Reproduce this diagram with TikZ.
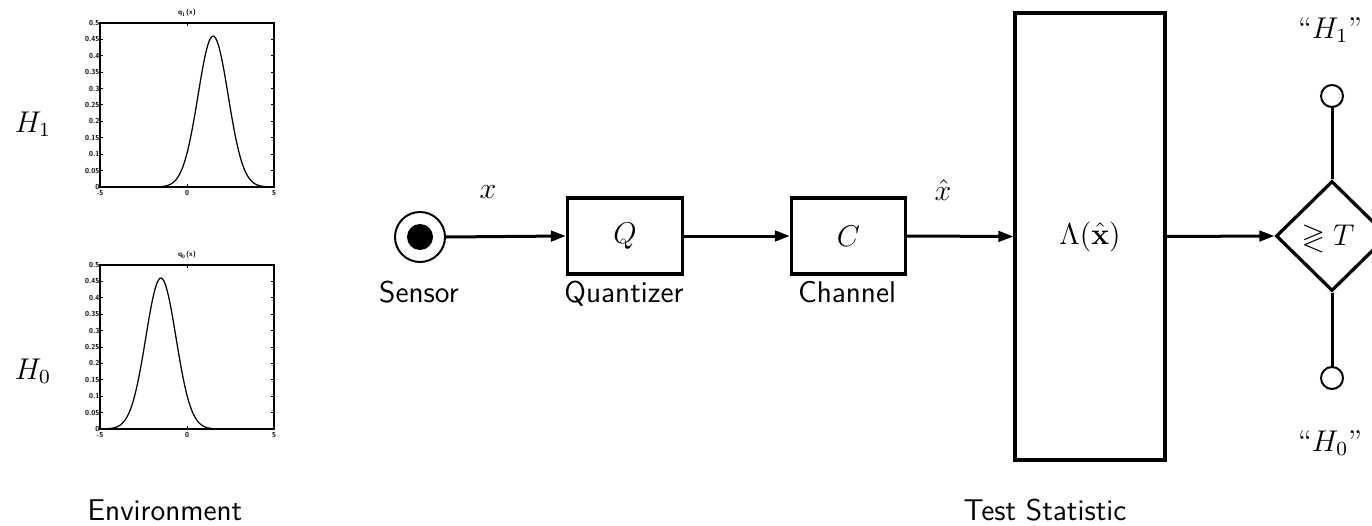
\documentclass[tikz,border=0pt]{standalone}
\usepackage{amsmath,amssymb}
\usetikzlibrary{arrows.meta,shapes.geometric}
\newcommand\envplot[3]{% #1 zero line y, #2 mean, #3 subscript
  \draw[line width=0.7pt] (100,#1-164) rectangle (274,#1);
  \foreach \v in {0,0.05,0.1,0.15,0.2,0.25,0.3,0.35,0.4,0.45,0.5}{
    \draw[line width=0.4pt] (100,{#1-328*\v}) -- ++(3,0);
    \draw[line width=0.4pt] (274,{#1-328*\v}) -- ++(-3,0);
    \node[ticklab,anchor=east] at (100.5,{#1-328*\v}) {\v};
  }
  \foreach \u/\l in {100/-5,187/0,274/5}{
    \draw[line width=0.4pt] (\u,#1) -- ++(0,-3);
    \draw[line width=0.4pt] (\u,#1-164) -- ++(0,3);
    \node[ticklab] at (\u,#1+6) {\l};
  }
  \node[ticklab] at (187,#1-174) {q\textsubscript{#3}(x)};
  \draw[line width=0.5pt] plot[domain=-5:5,samples=140,smooth]
    ({100+17.4*(\x+5)},{#1-328*0.46*exp(-((\x-(#2))*(\x-(#2)))/(2*0.867*0.867))});
}
\begin{document}
\begin{tikzpicture}[x=0.4pt,y=-0.4pt,
  ticklab/.style={font=\fontsize{2.9}{3.2}\selectfont\sffamily\bfseries,inner sep=0.3pt},
  lab/.style={font=\fontsize{12}{14}\selectfont\sffamily,anchor=base,inner sep=0},
  mth/.style={font=\fontsize{12}{14}\selectfont,inner sep=0},
  blk/.style={draw,line width=1.3pt,inner sep=0,font=\fontsize{12}{14}\selectfont},
  conn/.style={line width=1.2pt,-{Triangle[length=6pt,width=4.2pt]}},
  term/.style={draw,circle,line width=0.8pt,minimum size=8.8pt,inner sep=0}]
\useasboundingbox (0,0) rectangle (1372,526);
% environment
\node[mth] (h1) at (33,124) {$H_1$};
\node[mth] (h0) at (33,371) {$H_0$};
\envplot{187}{1.5}{1}
\envplot{429}{-1.5}{0}
\node[lab] (env) at (165,520) {Environment};
% sensor
\node[draw,circle,line width=0.8pt,minimum size=20pt,inner sep=0] (sen) at (420,237) {};
\fill (sen.center) circle[radius=5.2pt];
\node[lab] (senl) at (419,302) {Sensor};
% blocks
\node[blk,minimum width=46pt,minimum height=30.4pt] (Q) at (625,236) {$Q$};
\node[lab] (Ql) at (624,302) {Quantizer};
\node[blk,minimum width=45.6pt,minimum height=30.4pt] (C) at (848.5,236) {$C$};
\node[lab] (Cl) at (847,302) {Channel};
\node[blk,minimum width=60pt,minimum height=178.8pt] (T) at (1090,236.5) {$\Lambda(\hat{\mathbf{x}})$};
\node[lab] (Tl) at (1045,520) {Test Statistic};
\node[blk,shape=diamond,minimum width=44.8pt,minimum height=44pt] (D) at (1332,236) {};
\node[mth] (Dl) at (1328,238) {$\gtrless T$};
\node[term] (o1) at (1332,96) {};
\node[term] (o0) at (1332,378) {};
\node[mth] (r1) at (1330,30) {``$H_1$''};
\node[mth] (r0) at (1330,443) {``$H_0$''};
% connectors
\draw[conn] (sen.east) -- (Q.west);
\draw[conn] (Q.east) -- (C.west);
\draw[conn] (C.east) -- (T.west);
\draw[conn] (T.east) -- (D.west);
\draw[line width=1.2pt] (D.north) -- (o1.south);
\draw[line width=1.2pt] (D.south) -- (o0.north);
\node[mth] (xl) at (488,192) {$x$};
\node[mth] (xh) at (943,190) {$\hat{x}$};
\end{tikzpicture}
\end{document}
